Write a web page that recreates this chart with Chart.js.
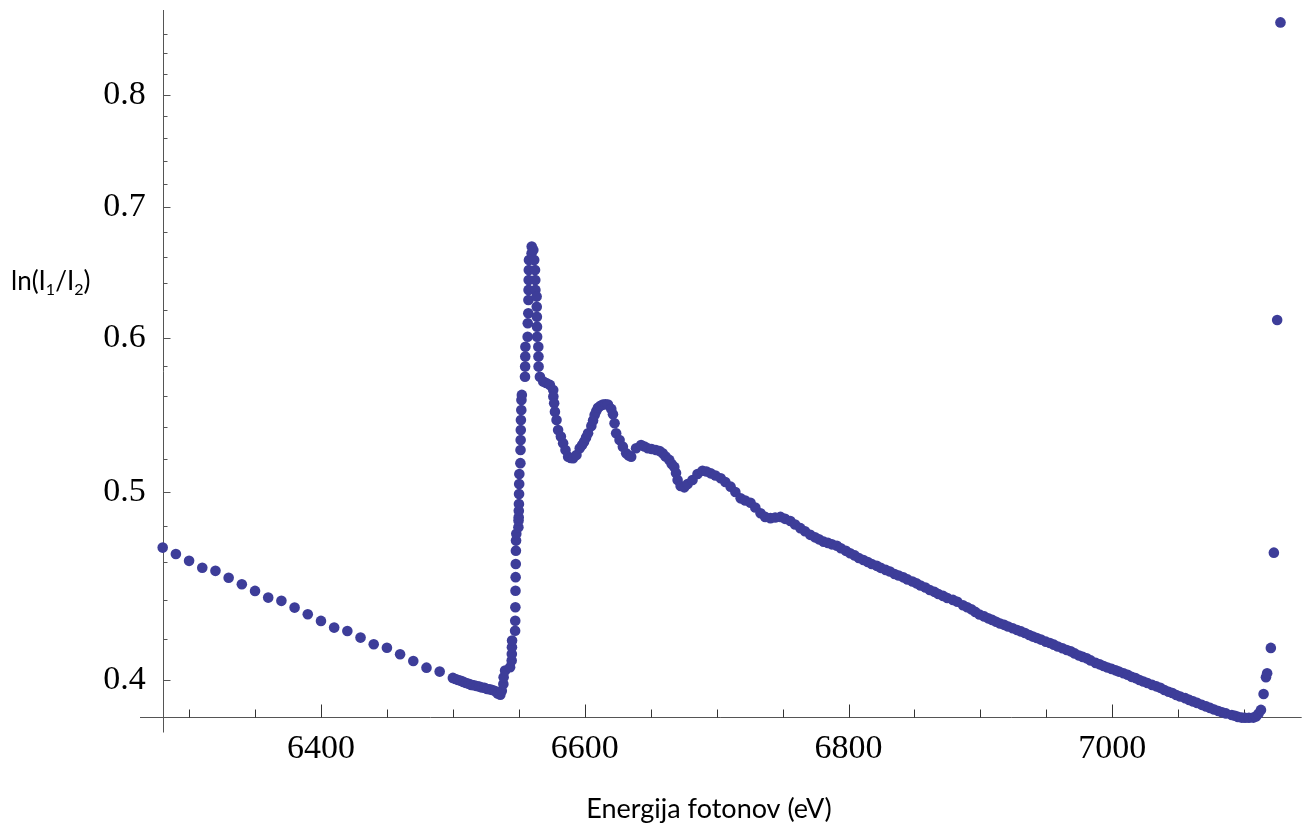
<!DOCTYPE html>
<html>
<head>
<meta charset="utf-8">
<script src="https://cdn.jsdelivr.net/npm/chart.js@4.4.1/dist/chart.umd.min.js"></script>
<style>
html, body { margin: 0; padding: 0; background: #fff; }
canvas { display: block; }
</style>
</head>
<body>
<canvas id="xanes" width="1307" height="828"></canvas>
<script>
// Mn K-edge absorption, ln(I1/I2) vs photon energy (eV)
const preEdgeE = [6280,6290,6300,6310,6320,6330,6340,6350,6360,6370,6380,6390,6400,6410,6420,6430,6440,6450,6460,6470,6480,6490];
const preEdgeMu = [0.4680,0.4645,0.4607,0.4570,0.4553,0.4516,0.4481,0.4446,0.4411,0.4394,0.4359,0.4325,0.4291,0.4257,0.4240,0.4207,0.4174,0.4157,0.4125,0.4092,0.4060,0.4041];

const flatE = [6500,6502,6504,6506,6508,6510,6512,6514,6516,6518,6520,6522,6524,6526,6528,6530,6532,6534,6536];
const flatMu = [0.4011,0.4006,0.4001,0.3997,0.3992,0.3987,0.3983,0.3978,0.3976,0.3973,0.3970,0.3966,0.3964,0.3959,0.3957,0.3954,0.3949,0.3938,0.3932];

const edgeE = [6537.1,6538.3,6538.5,6539.6,6543.4,6544.6,6544.7,6544.8,6544.9,6547.2,6547.3,6547.4,6547.5,6547.6,6547.7,6547.8,6547.9,6548.1,
  6549.7,6549.8,6549.9,6550.0,6550.1,6550.2,6550.3,6550.4,6551.2,6551.3,6551.4,6551.5,6551.6,6551.9,6552.0,6552.3,
  6554.7,6554.8,6554.9,6555.0,6556.7,6556.8,6557.2,6557.3,6557.4,6557.5,6557.6,6557.7,6559.7,6559.8];
const edgeMu = [0.3951,0.3982,0.4014,0.4046,0.4062,0.4094,0.4126,0.4159,0.4192,0.4241,0.4292,0.4361,0.4447,0.4519,0.4590,0.4663,0.4719,0.4757,
  0.4794,0.4832,0.4851,0.4889,0.4928,0.4986,0.5046,0.5106,0.5172,0.5253,0.5316,0.5379,0.5443,0.5508,0.5574,0.5607,
  0.5729,0.5798,0.5867,0.5936,0.6007,0.6103,0.6176,0.6274,0.6349,0.6424,0.6501,0.6578,0.6631,0.6683];

const nearEdgeE = [6561.0,6561.7,6562.3,6562.5,6562.6,6563.5,6563.6,6563.7,6563.8,6563.9,6564.8,6564.9,6565.0,6566.0,6568.5,6570.8,6573.6,
  6576.1,6576.2,6576.8,6577.4,6578.6,6579.8,6581.9,6583.6,6585.4,6587.4,6589.3,6591.2,6593.7,6596.2,6598.0,6599.5,6601.0,6602.5,
  6605.0,6606.3,6607.5,6608.7,6610.0,6611.9,6613.8,6615.7,6617.6,6620.1,6621.4,6622.6,6623.8,6626.4,6628.9,6631.4,6633.4,6635.2,
  6638.9,6642.7,6645.3,6647.8,6650.8,6654.0,6656.8,6659.1,6661.3,6664.1,6665.9,6667.9,6669.2,6670.4,6672.7,6675.5,6678.0,6681.7,
  6685.5,6689.3,6692.3,6695.5,6699.1,6703.1,6706.6,6710.6,6714.2,6718.2,6721.7,6725.7,6729.3,6733.3,6736.8,6740.8,6744.4,6748.4,
  6751.9,6755.9,6759.5,6763.5,6767.0,6771.0,6774.6,6777.6,6781.1,6784.4,6787.4,6791.2,6794.2,6798.0];
const nearEdgeMu = [0.6657,0.6578,0.6501,0.6424,0.6349,0.6299,0.6224,0.6151,0.6079,0.6007,0.5936,0.5867,0.5798,0.5729,0.5696,0.5687,0.5674,
  0.5640,0.5596,0.5552,0.5497,0.5443,0.5379,0.5337,0.5295,0.5253,0.5212,0.5204,0.5202,0.5222,0.5264,0.5284,0.5305,0.5332,0.5358,
  0.5405,0.5440,0.5475,0.5500,0.5522,0.5535,0.5543,0.5545,0.5543,0.5515,0.5480,0.5422,0.5358,0.5316,0.5274,0.5233,0.5219,0.5212,
  0.5264,0.5284,0.5275,0.5264,0.5259,0.5253,0.5247,0.5233,0.5213,0.5192,0.5167,0.5149,0.5112,0.5070,0.5034,0.5026,0.5046,0.5070,
  0.5106,0.5126,0.5121,0.5110,0.5097,0.5080,0.5058,0.5030,0.4998,0.4961,0.4948,0.4935,0.4907,0.4874,0.4853,0.4846,0.4850,0.4853,
  0.4842,0.4830,0.4810,0.4789,0.4771,0.4751,0.4737,0.4726,0.4713,0.4706,0.4698,0.4690,0.4676,0.4662];

const tailE = [6801.2,6804.7,6807.8,6811.3,6814.6,6817.6,6821.4,6824.4,6828.2,6831.4,6834.9,6838.0,6841.5,6844.7,6848.5,6851.5,6854.6,
  6858.3,6861.6,6865.1,6868.1,6871.7,6874.9,6879.2,6882.5,6886.8,6890.0,6893.1,6896.1,6899.3,6902.9,6905.9,6908.9,6911.9,6914.9,
  6918.0,6921.0,6924.5,6927.8,6930.8,6933.8,6937.0,6939.8,6942.8,6945.9,6949.6,6952.7,6955.7,6958.7,6962.2,6965.5,6968.5,6971.5,
  6974.8,6977.6,6980.6,6983.6,6987.4,6990.4,6993.4,6996.4,6999.5,7002.5,7005.0,7008.5,7011.6,7014.6,7017.6,7020.6,7023.6,7026.6,
  7030.2,7033.4,7036.4,7039.5,7042.7,7045.5,7048.5,7051.5,7055.3,7058.3,7061.3,7064.3,7067.9,7071.1,7074.1,7077.2,7080.4,7083.2,
  7086.2,7090.6,7093.0,7095.3,7098.1,7100.6,7103.6,7106.9,7108.9,7110.8];
const tailMu = [0.4649,0.4637,0.4623,0.4612,0.4601,0.4590,0.4580,0.4569,0.4558,0.4549,0.4536,0.4528,0.4518,0.4507,0.4496,0.4486,0.4475,
  0.4464,0.4451,0.4441,0.4430,0.4420,0.4409,0.4399,0.4389,0.4371,0.4361,0.4350,0.4337,0.4324,0.4314,0.4304,0.4296,0.4287,0.4278,
  0.4271,0.4263,0.4254,0.4245,0.4238,0.4230,0.4220,0.4212,0.4205,0.4197,0.4187,0.4180,0.4172,0.4163,0.4154,0.4146,0.4139,0.4129,
  0.4119,0.4112,0.4105,0.4095,0.4083,0.4076,0.4068,0.4061,0.4054,0.4047,0.4041,0.4033,0.4026,0.4016,0.4010,0.4001,0.3994,0.3987,
  0.3978,0.3971,0.3964,0.3954,0.3946,0.3940,0.3931,0.3924,0.3916,0.3908,0.3901,0.3894,0.3885,0.3878,0.3871,0.3864,0.3857,0.3851,
  0.3846,0.3839,0.3835,0.3830,0.3827,0.3826,0.3826,0.3827,0.3832,0.3844];

const endE = [7112.7,7114.7,7116.5,7117.4,7120.2,7122.5,7125.0,7127.5];
const endMu = [0.3862,0.3935,0.4014,0.4033,0.4156,0.4652,0.6127,0.8714];

const xTicks = [6400, 6600, 6800, 7000];
const xMinorTicks = [6300,6350,6450,6500,6550,6650,6700,6750,6850,6900,6950,7050,7100];
const yTicks = [0.4, 0.5, 0.6, 0.7, 0.8];
const yMinorTicks = [0.42,0.44,0.46,0.48,0.52,0.54,0.56,0.58,0.62,0.64,0.66,0.68,0.72,0.74,0.76,0.78,0.82,0.84,0.86];

const dotColor = 'rgb(61,61,153)';

function toPoints(es, vs) {
  return es.map((e, i) => ({ x: e, y: vs[i] }));
}
const points = [].concat(
  toPoints(preEdgeE, preEdgeMu), toPoints(flatE, flatMu), toPoints(edgeE, edgeMu),
  toPoints(nearEdgeE, nearEdgeMu), toPoints(tailE, tailMu), toPoints(endE, endMu)
);

// axes drawn Mathematica-style: crossing lines, ticks pointing inward
const axesPlugin = {
  id: 'mmaAxes',
  beforeDatasetsDraw(chart) {
    const { ctx, scales: { x, y } } = chart;
    const ax = Math.round(x.left) + 0.5;
    const ay = Math.round(y.bottom) + 0.5;
    ctx.save();
    ctx.lineWidth = 1;
    ctx.strokeStyle = '#555';
    ctx.beginPath();
    ctx.moveTo(140, ay); ctx.lineTo(x.right, ay);
    ctx.moveTo(ax, y.top); ctx.lineTo(ax, ay + 15);
    ctx.stroke();

    ctx.beginPath();
    yTicks.forEach(v => { const p = Math.round(y.getPixelForValue(v)) + 0.5; ctx.moveTo(ax, p); ctx.lineTo(ax + 7, p); });
    yMinorTicks.forEach(v => { const p = Math.round(y.getPixelForValue(v)) + 0.5; ctx.moveTo(ax, p); ctx.lineTo(ax + 4, p); });
    ctx.stroke();

    ctx.strokeStyle = '#333';
    ctx.beginPath();
    xTicks.forEach(v => { const p = Math.round(x.getPixelForValue(v)) + 0.5; ctx.moveTo(p, ay); ctx.lineTo(p, ay - 13); });
    xMinorTicks.forEach(v => { const p = Math.round(x.getPixelForValue(v)) + 0.5; ctx.moveTo(p, ay); ctx.lineTo(p, ay - 8); });
    ctx.stroke();
    ctx.restore();
  },
  afterDraw(chart) {
    const ctx = chart.ctx;
    ctx.save();
    ctx.fillStyle = '#000';
    ctx.textBaseline = 'alphabetic';
    ctx.textAlign = 'center';
    ctx.font = '27px Lato';
    ctx.fillText('Energija fotonov (eV)', 709, 818);

    ctx.textAlign = 'left';
    const parts = [['ln(I', false], ['1', true], ['/I', false], ['2', true], [')', false]];
    let cx = 11;
    parts.forEach(([t, sub]) => {
      ctx.font = sub ? '16px Lato' : '26px Lato';
      ctx.fillText(t, cx, sub ? 295 : 290);
      cx += ctx.measureText(t).width;
    });
    ctx.restore();
  }
};

const zeroPad = s => { s.paddingLeft = 0; s.paddingRight = 0; s.paddingTop = 0; s.paddingBottom = 0; };

new Chart(document.getElementById('xanes').getContext('2d'), {
  type: 'scatter',
  data: {
    datasets: [{
      label: 'ln(I1/I2)',
      data: points,
      pointRadius: 5.3,
      pointBorderWidth: 0,
      pointBackgroundColor: dotColor,
      clip: false
    }]
  },
  options: {
    responsive: false,
    animation: false,
    devicePixelRatio: 1,
    layout: { padding: { top: 10, left: 0, right: 0, bottom: 0 } },
    plugins: { legend: { display: false }, tooltip: { enabled: false } },
    scales: {
      x: {
        type: 'linear',
        min: 6280,
        max: 7143.6,
        grid: { display: false, drawTicks: false },
        border: { display: false },
        afterBuildTicks: s => { s.ticks = xTicks.map(v => ({ value: v })); },
        afterFit: s => { s.height = 111.3; zeroPad(s); },
        ticks: {
          padding: 12,
          color: '#000',
          autoSkip: false,
          maxRotation: 0,
          font: { family: 'Liberation Serif', size: 34 },
          callback: v => String(v)
        }
      },
      y: {
        type: 'logarithmic',
        min: 0.3831,
        max: 0.8843,
        grid: { display: false, drawTicks: false },
        border: { display: false },
        afterBuildTicks: s => { s.ticks = yTicks.map(v => ({ value: v })); },
        afterFit: s => { s.width = 162.7; zeroPad(s); },
        ticks: {
          padding: 17,
          color: '#000',
          autoSkip: false,
          font: { family: 'Liberation Serif', size: 34 },
          callback: v => v.toFixed(1)
        }
      }
    }
  },
  plugins: [axesPlugin]
});
</script>
</body>
</html>
